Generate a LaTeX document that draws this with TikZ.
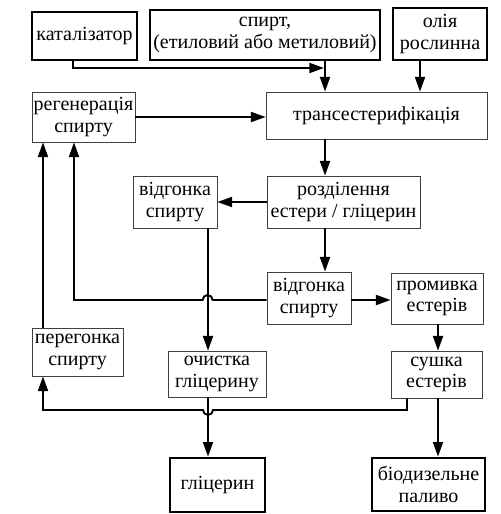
\documentclass[tikz,border=0pt]{standalone}
\usepackage{fontspec}
\setmainfont{Liberation Serif}
\newfontfamily\myserif{Liberation Serif}
\usetikzlibrary{arrows.meta}
\begin{document}
\begin{tikzpicture}[x=0.75pt,y=0.75pt,
  every node/.style={font=\myserif\fontsize{15}{16}\selectfont, align=center, inner sep=0pt},
  proc/.style={draw=black!75, line width=0.6pt},
  io/.style={draw=black, line width=2pt},
  flow/.style={line width=1.4pt, -{Triangle[length=11pt,width=7.5pt]}}]
\useasboundingbox (0,0) rectangle (500,-514);
% input / output boxes
\node[io, minimum width=105*0.75pt, minimum height=48*0.75pt] (kat) at (84.5,-36) {каталізатор};
\node[io, minimum width=230*0.75pt, minimum height=50*0.75pt] (spirt) at (265,-35) {спирт,\\(етиловий або метиловий)};
\node[io, minimum width=94*0.75pt, minimum height=52*0.75pt] (oliya) at (440,-34) {олія\\рослинна};
\node[io, minimum width=95*0.75pt, minimum height=54*0.75pt] (glits) at (217.5,-485) {гліцерин};
\node[io, minimum width=113*0.75pt, minimum height=53*0.75pt] (biod) at (428.5,-484.5) {біодизельне\\паливо};
% process boxes
\node[proc, minimum width=103*0.75pt, minimum height=50*0.75pt] (regen) at (83.5,-117) {регенерація\\спирту};
\node[proc, minimum width=221*0.75pt, minimum height=47*0.75pt] (trans) at (376.5,-115.5) {трансестерифікація};
\node[proc, minimum width=84*0.75pt, minimum height=52*0.75pt] (vidg1) at (175,-202) {відгонка\\спирту};
\node[proc, minimum width=153*0.75pt, minimum height=52*0.75pt] (rozd) at (343.5,-202) {розділення\\естери / гліцерин};
\node[proc, minimum width=84*0.75pt, minimum height=52*0.75pt] (vidg2) at (309,-298) {відгонка\\спирту};
\node[proc, minimum width=92*0.75pt, minimum height=51*0.75pt] (promyv) at (437,-298.5) {промивка\\естерів};
\node[proc, minimum width=91*0.75pt, minimum height=48*0.75pt] (pereg) at (77.5,-352) {перегонка\\спирту};
\node[proc, minimum width=98*0.75pt, minimum height=46*0.75pt] (ochyst) at (217,-374) {очистка\\гліцерину};
\node[proc, minimum width=91*0.75pt, minimum height=47*0.75pt] (sushka) at (436.5,-374.5) {сушка\\естерів};
% guide coordinates
\coordinate (xa) at (325,0);
\coordinate (xo) at (420,0);
\coordinate (xk) at (73,0);
\coordinate (xl) at (43,0);
\coordinate (xr) at (74,0);
\coordinate (xg) at (208,0);
\coordinate (xe) at (438,0);
\coordinate (xs) at (407,0);
\coordinate (yhop) at (0,-300);
\coordinate (ylow) at (0,-410);
\coordinate (katend) at (324,-68);
% connectors
\draw[flow] (kat.south -| xk) |- (katend);
\draw[flow] (spirt.south -| xa) -- (trans.north -| xa);
\draw[flow] (oliya.south -| xo) -- (trans.north -| xo);
\draw[flow] (regen.east) -- (trans.west |- regen.east);
\draw[flow] (trans.south -| xa) -- (rozd.north -| xa);
\draw[flow] (rozd.west) -- (vidg1.east);
\draw[flow] (rozd.south -| xa) -- (vidg2.north -| xa);
\draw[flow] (vidg2.east |- yhop) -- (promyv.west |- yhop);
\draw[flow] (vidg2.west |- yhop) -- ++(-54,0) arc[start angle=0, end angle=180, radius=5] -- (xr |- yhop) -- (regen.south -| xr);
\draw[flow] (vidg1.south -| xg) -- (ochyst.north -| xg);
\draw[flow] (ochyst.south -| xg) -- (glits.north -| xg);
\draw[flow] (promyv.south -| xe) -- (sushka.north -| xe);
\draw[flow] (sushka.south -| xe) -- (biod.north -| xe);
\draw[flow] (sushka.south -| xs) -- (xs |- ylow) -- (213,-410) arc[start angle=0, end angle=-180, radius=5] -- (xl |- ylow) -- (pereg.south -| xl);
\draw[flow] (pereg.north -| xl) -- (regen.south -| xl);
\end{tikzpicture}
\end{document}
